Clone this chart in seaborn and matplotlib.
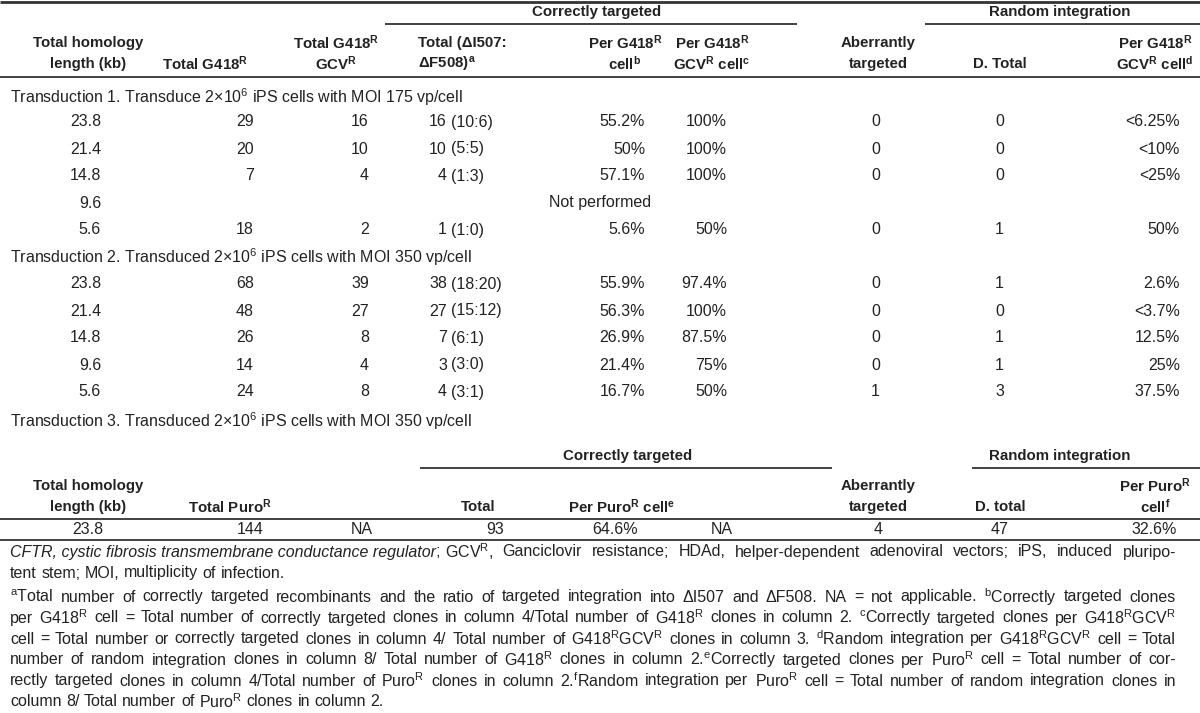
import numpy as np
import pandas as pd
import matplotlib
matplotlib.use("Agg")
import matplotlib.pyplot as plt
import seaborn as sns

# Table values
lengths = ["23.8", "21.4", "14.8", "9.6", "5.6"]

t1_g418 = ["29", "20", "7", "", "18"]
t1_gcv = ["16", "10", "4", "", "2"]
t1_total = ["16", "10", "4", "", "1"]
t1_ratio = ["(10:6)", "(5:5)", "(1:3)", "", "(1:0)"]
t1_per_g418 = ["55.2%", "50%", "57.1%", "", "5.6%"]
t1_per_gcv = ["100%", "100%", "100%", "", "50%"]
t1_aberrant = ["0", "0", "0", "", "0"]
t1_random = ["0", "0", "0", "", "1"]
t1_random_pct = ["<6.25%", "<10%", "<25%", "", "50%"]

t2_g418 = ["68", "48", "26", "14", "24"]
t2_gcv = ["39", "27", "8", "4", "8"]
t2_total = ["38", "27", "7", "3", "4"]
t2_ratio = ["(18:20)", "(15:12)", "(6:1)", "(3:0)", "(3:1)"]
t2_per_g418 = ["55.9%", "56.3%", "26.9%", "21.4%", "16.7%"]
t2_per_gcv = ["97.4%", "100%", "87.5%", "75%", "50%"]
t2_aberrant = ["0", "0", "0", "0", "1"]
t2_random = ["1", "0", "1", "1", "3"]
t2_random_pct = ["2.6%", "<3.7%", "12.5%", "25%", "37.5%"]

t3_row = ["23.8", "144", "NA", "93", "64.6%", "NA", "4", "47", "32.6%"]

group_titles = [
    "Transduction 1. Transduce 2×10$^{6}$ iPS cells with MOI 175 vp/cell",
    "Transduction 2. Transduced 2×10$^{6}$ iPS cells with MOI 350 vp/cell",
    "Transduction 3. Transduced 2×10$^{6}$ iPS cells with MOI 350 vp/cell",
]

footnote_italic = "CFTR, cystic fibrosis transmembrane conductance regulator"
footnotes = [
    "; GCV$^{R}$, Ganciclovir resistance; HDAd, helper-dependent adenoviral vectors; iPS, induced pluripo-",
    "tent stem; MOI, multiplicity of infection.",
    "$^{a}$Total number of correctly targeted recombinants and the ratio of targeted integration into ΔI507 and ΔF508. NA = not applicable. $^{b}$Correctly targeted clones",
    "per G418$^{R}$ cell = Total number of correctly targeted clones in column 4/Total number of G418$^{R}$ clones in column 2. $^{c}$Correctly targeted clones per G418$^{R}$GCV$^{R}$",
    "cell = Total number or correctly targeted clones in column 4/ Total number of G418$^{R}$GCV$^{R}$ clones in column 3. $^{d}$Random integration per G418$^{R}$GCV$^{R}$ cell = Total",
    "number of random integration clones in column 8/ Total number of G418$^{R}$ clones in column 2.$^{e}$Correctly targeted clones per Puro$^{R}$ cell = Total number of cor-",
    "rectly targeted clones in column 4/Total number of Puro$^{R}$ clones in column 2.$^{f}$Random integration per Puro$^{R}$ cell = Total number of random integration clones in",
    "column 8/ Total number of Puro$^{R}$ clones in column 2.",
]
justified = [True, False, True, True, True, True, True, False]

sns.set_theme(style="white")
plt.rcParams["font.family"] = ["Liberation Sans", "DejaVu Sans"]
plt.rcParams["mathtext.default"] = "regular"

TXT = "#222222"
LINE = "#333333"
FS = 11.5     # body text
HFS = 10.8    # bold headers

fig = plt.figure(figsize=(12, 7.13), dpi=100)
ax = fig.add_axes([0, 0, 1, 1])
ax.set_xlim(0, 1200)
ax.set_ylim(713, 0)
ax.axis("off")


def put(x, y, s, ha="center", bold=False, fs=None, **kw):
    if fs is None:
        fs = HFS if bold else FS
    return ax.text(x, y, s, ha=ha, va="center", fontsize=fs, color=TXT,
                   fontweight="bold" if bold else "normal", **kw)


def hline(y, x0, x1, lw=1.0):
    ax.plot([x0, x1], [y, y], color=LINE, lw=lw, solid_capstyle="butt")


# ---- table 1 header
hline(2, 0, 1200, lw=2.0)
put(597, 12, "Correctly targeted", bold=True)
put(1060, 12, "Random integration", bold=True)
hline(24, 385, 797, lw=1.3)
hline(24, 925, 1200, lw=1.3)

put(88, 43, "Total homology", bold=True)
put(88, 64, "length (kb)", bold=True)
put(205, 64, "Total G418$^{R}$", bold=True)
put(336, 43, "Total G418$^{R}$", bold=True)
put(336, 64, "GCV$^{R}$", bold=True)
put(418, 43, "Total (ΔI507:", ha="left", bold=True)
put(418, 64, "ΔF508)$^{a}$", ha="left", bold=True)
put(625, 43, "Per G418$^{R}$", bold=True)
put(625, 64, "cell$^{b}$", bold=True)
put(712, 43, "Per G418$^{R}$", bold=True)
put(712, 64, "GCV$^{R}$ cell$^{c}$", bold=True)
put(878, 43, "Aberrantly", bold=True)
put(878, 64, "targeted", bold=True)
put(1000, 64, "D. Total", bold=True)
put(1155, 43, "Per G418$^{R}$", bold=True)
put(1155, 64, "GCV$^{R}$ cell$^{d}$", bold=True)
hline(77, 0, 1200, lw=1.3)

# column anchors for data cells
col_x = [101, 254, 369, 447, 645, 727, 880, 1004, 1180]
ROW = 27


def data_rows(y0, cols):
    for i in range(len(lengths)):
        y = y0 + i * ROW
        put(col_x[0], y, lengths[i], ha="right")
        if cols[0][i] == "":
            put(600, y, "Not performed")
            continue
        put(col_x[1], y, cols[0][i], ha="right")
        put(col_x[2], y, cols[1][i], ha="right")
        put(col_x[3], y, cols[2][i], ha="right")
        put(col_x[3] + 4, y, cols[3][i], ha="left")
        for j in range(4, 9):
            put(col_x[j], y, cols[j][i], ha="right")


put(10, 97, group_titles[0], ha="left")
data_rows(122, [t1_g418, t1_gcv, t1_total, t1_ratio, t1_per_g418, t1_per_gcv,
                t1_aberrant, t1_random, t1_random_pct])
put(10, 257, group_titles[1], ha="left")
data_rows(284, [t2_g418, t2_gcv, t2_total, t2_ratio, t2_per_g418, t2_per_gcv,
                t2_aberrant, t2_random, t2_random_pct])
put(10, 421, group_titles[2], ha="left")

# ---- table 2 (puromycin)
put(628, 456, "Correctly targeted", bold=True)
put(1060, 456, "Random integration", bold=True)
hline(468, 420, 832, lw=1.3)
hline(468, 972, 1200, lw=1.3)
put(88, 486, "Total homology", bold=True)
put(88, 507, "length (kb)", bold=True)
put(230, 507, "Total Puro$^{R}$", bold=True)
put(478, 507, "Total", bold=True)
put(622, 507, "Per Puro$^{R}$ cell$^{e}$", bold=True)
put(878, 486, "Aberrantly", bold=True)
put(878, 507, "targeted", bold=True)
put(1000, 507, "D. total", bold=True)
put(1155, 486, "Per Puro$^{R}$", bold=True)
put(1155, 507, "cell$^{f}$", bold=True)
hline(519, 0, 1200, lw=1.3)

t3_x = [88, 250, 362, 495, 615, 722, 878, 1000, 1154]
for x, s in zip(t3_x, t3_row):
    put(x, 529, s)
hline(540, 0, 1200, lw=1.3)

# ---- footnotes (justified like the journal layout)
fig.canvas.draw()
r = fig.canvas.get_renderer()
RIGHT = 1176


def width_of(s, fs, **kw):
    t = ax.text(0, 0, s, fontsize=fs, **kw)
    w = t.get_window_extent(r).width
    t.remove()
    return w


# pick a footnote size that leaves only modest stretching of the spaces
natural = [width_of(footnote_italic, FS, style="italic") + width_of(footnotes[0], FS)]
natural += [width_of(s, FS) for s, j in zip(footnotes[2:], justified[2:]) if j]
FN = float(np.clip(FS * 1130 / max(natural), 11.5, 12.4))


def justify_line(y, x0, s, stretch):
    words = s.split()
    widths = [width_of(w, FN) for w in words]
    space = width_of("a b", FN) - width_of("ab", FN)
    gap = space
    if stretch and len(words) > 1:
        gap = max((RIGHT - x0 - sum(widths)) / (len(words) - 1), 0.6 * space)
    x = x0
    for w, wd in zip(words, widths):
        put(x, y, w, ha="left", fs=FN)
        x += wd + gap


foot_y = [552, 573, 597, 618, 639, 660, 681, 702]
it = ax.text(10, foot_y[0], footnote_italic, ha="left", va="center",
             fontsize=FN, color=TXT, style="italic")
w_it = it.get_window_extent(r).width
first = footnotes[0]
put(10 + w_it, foot_y[0], first[:1], ha="left", fs=FN)
x_start = 10 + w_it + width_of(";", FN) + width_of("a b", FN) - width_of("ab", FN)
justify_line(foot_y[0], x_start, first[1:], justified[0])
for y, s, j in zip(foot_y[1:], footnotes[1:], justified[1:]):
    justify_line(y, 10, s, j)

fig.savefig("out.png", dpi=100)
